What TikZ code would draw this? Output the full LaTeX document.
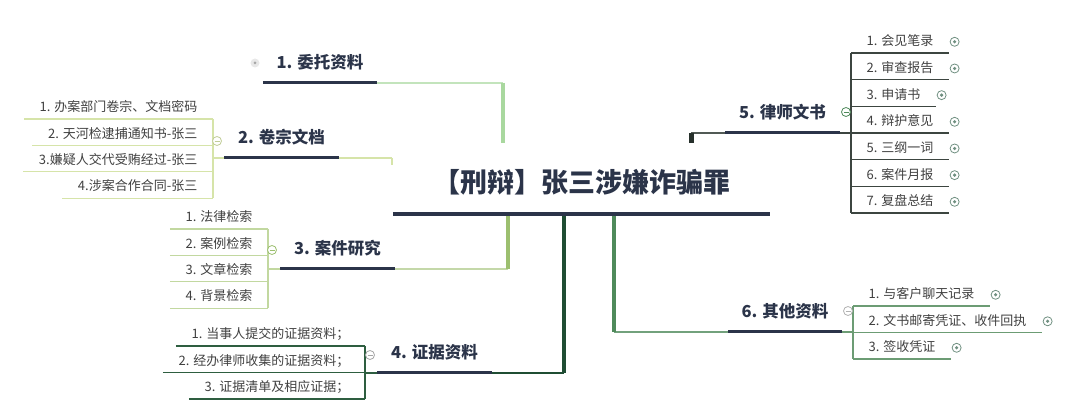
\documentclass[tikz,border=0pt]{standalone}
\usepackage{fontspec}
\setmainfont{Noto Sans CJK SC}
\usepackage{xcolor}
\usepackage{tikz}
\usetikzlibrary{calc}
\newcommand{\RootFont}{\fontsize{27}{32}\selectfont\bfseries}
\newcommand{\TopicFont}{\fontsize{16.5}{20}\selectfont\bfseries}
\newcommand{\ItemFont}{\fontsize{13}{16}\selectfont}
\definecolor{navy}{HTML}{2B3449}
\definecolor{txtgray}{HTML}{404040}
\definecolor{ga}{HTML}{A9D89F}
\definecolor{gb}{HTML}{D6E4A9}
\definecolor{gc}{HTML}{9CBF6F}
\definecolor{gcl}{HTML}{C2D8A0}
\definecolor{gd}{HTML}{1F4D33}
\definecolor{gdl}{HTML}{2E5E40}
\definecolor{ge}{HTML}{26302B}
\definecolor{gf}{HTML}{4F8A5B}
\definecolor{gfl}{HTML}{6C9C74}
\definecolor{icon}{HTML}{6F8F80}

\begin{document}
\begin{tikzpicture}[x=1pt,y=-1pt,
    root/.style={text=navy,font=\RootFont,inner sep=0pt,minimum width=377pt,
      text height=50pt,text depth=21pt},
    topic/.style={text=navy,font=\TopicFont,inner sep=0pt,minimum width=114pt,
      text height=20pt,text depth=14pt,anchor=south},
    item/.style={text=txtgray,font=\ItemFont,inner xsep=15.5pt,inner ysep=0pt,
      text height=12pt,text depth=7pt},
    uline/.style={navy,line width=3pt},
    link/.style={line width=1.2pt},
    stem/.style={line width=4pt},
    fold/.style={circle,draw=#1,fill=white,line width=0.8pt,minimum size=9pt,inner sep=0pt,
      path picture={\draw[#1,line width=0.8pt] ([xshift=-2.5pt]path picture bounding box.center)
        -- ([xshift=2.5pt]path picture bounding box.center);}},
    expand/.style={circle,draw=icon,line width=0.8pt,minimum size=9pt,inner sep=0pt,
      path picture={\fill[icon] (path picture bounding box.center) circle (1.8pt);}}]
  \useasboundingbox (0,0) rectangle (1080,419);

  % junctions on the central topic
  \coordinate (j1) at (503,143);
  \coordinate (j2) at (392,165);
  \coordinate (j3) at (508,214);
  \coordinate (j4) at (564,214);
  \coordinate (j5) at (691,143);
  \coordinate (j6) at (614,214);

  \node[root] (root) at (581.5,178.5) {【刑辩】张三涉嫌诈骗罪};

  \node[topic] (b1) at (320,83) {1. 委托资料};
  \node[topic] (b2) at (281.5,158) {2. 卷宗文档};
  \node[topic] (b3) at (337.5,269) {3. 案件研究};
  \node[topic] (b4) at (434.5,373) {4. 证据资料};
  \node[topic] (b5) at (782.5,133) {5. 律师文书};
  \node[topic] (b6) at (785,332) {6. 其他资料};

  % branches to the central topic
  \draw[link,ga!70] (b1.south east) -- (b1.south east -| j1);
  \draw[stem,ga] (b1.south east -| j1) -- (j1);
  \draw[link,gb] (b2.south east) -- (b2.south east -| j2);
  \draw[gb,line width=2pt] (b2.south east -| j2) -- (j2);
  \draw[link,gc!60] (b3.south east) -- (b3.south east -| j3);
  \draw[stem,gc] (b3.south east -| j3) -- (j3);
  \draw[link,gd] (b4.south east) -- (b4.south east -| j4);
  \draw[stem,gd,line width=4.5pt] (b4.south east -| j4) -- (j4);
  \draw[link,ge!80] (b5.south west) -- (b5.south west -| j5);
  \draw[stem,ge,line width=5pt] (b5.south west -| j5) -- (j5);
  \draw[link,gf!80] (b6.south west) -- (b6.south west -| j6);
  \draw[stem,gf] (b6.south west -| j6) -- (j6);

  \draw[navy,line width=4pt] (root.south west) -- (root.south east);
  \foreach \b in {b1,b2,b3,b4,b5,b6}
    \draw[uline] (\b.south west) -- (\b.south east);

  % 2. 卷宗文档
  \foreach \t [count=\i] in {1. 办案部门卷宗、文档密码, 2. 天河检逮捕通知书-张三,
      3.嫌疑人交代受贿经过-张三, 4.涉案合作合同-张三} {
    \node[item,anchor=south east] (b2i\i) at (213,{119+26.4*(\i-1)}) {\t};
    \draw[link,gb] (b2i\i.south west) -- (b2i\i.south east);
  }
  \draw[link,gb] (b2.south west) -- (b2.south west -| b2i1.south east);
  \draw[link,gb] (b2i1.south east) -- (b2i4.south east);

  % 3. 案件研究
  \foreach \t [count=\i] in {1. 法律检索, 2. 案例检索, 3. 文章检索, 4. 背景检索} {
    \node[item,anchor=south east] (b3i\i) at (268,{229+26.4*(\i-1)}) {\t};
    \draw[link,gcl] (b3i\i.south west) -- (b3i\i.south east);
  }
  \draw[link,gcl] (b3.south west) -- (b3.south west -| b3i1.south east);
  \draw[link,gcl] (b3i1.south east) -- (b3i4.south east);

  % 4. 证据资料
  \foreach \t [count=\i] in {1. 当事人提交的证据资料；, 2. 经办律师收集的证据资料；,
      3. 证据清单及相应证据；} {
    \node[item,anchor=south east] (b4i\i) at (365,{346+26.5*(\i-1)}) {\t};
    \draw[link,gdl] (b4i\i.south west) -- (b4i\i.south east);
  }
  \draw[link,gdl] (b4.south west) -- (b4.south west -| b4i1.south east);
  \draw[link,gdl] (b4i1.south east) -- (b4i3.south east);

  % 5. 律师文书
  \foreach \t [count=\i] in {1. 会见笔录, 2. 审查报告, 3. 申请书, 4. 辩护意见,
      5. 三纲一词, 6. 案件月报, 7. 复盘总结} {
    \node[item,anchor=south west] (b5i\i) at (851,{53+26.67*(\i-1)}) {\t};
    \draw[link,ge!90] (b5i\i.south west) -- (b5i\i.south east);
    \node[expand] (b5e\i) at ([xshift=5.5pt,yshift=1.5pt]b5i\i.east) {};
  }
  \draw[link,ge!90] (b5.south east) -- (b5.south east -| b5i1.south west);
  \draw[link,ge!90] (b5i1.south west) -- (b5i7.south west);

  % 6. 其他资料
  \foreach \t [count=\i] in {1. 与客户聊天记录, 2. 文书邮寄凭证、收件回执, 3. 签收凭证} {
    \node[item,anchor=south west] (b6i\i) at (853,{306+26.5*(\i-1)}) {\t};
    \draw[link,gfl] (b6i\i.south west) -- (b6i\i.south east);
    \node[expand] (b6e\i) at ([xshift=5.5pt,yshift=1.5pt]b6i\i.east) {};
  }
  \draw[link,gfl] (b6.south east) -- (b6.south east -| b6i1.south west);
  \draw[link,gfl] (b6i1.south west) -- (b6i3.south west);

  % fold markers
  \node[circle,fill=gray!18,minimum size=9pt,inner sep=0pt,
    path picture={\fill[gray!70] (path picture bounding box.center) circle (1.5pt);}]
    (f1) at (255,63) {};
  \node[fold=gb!90!black] (f2) at (217,141) {};
  \node[fold=gc] (f3) at (272,250) {};
  \node[fold=gray!70] (f4) at (370,355) {};
  \node[fold=gf] (f5) at (846,112) {};
  \node[fold=gray!60] (f6) at (848,311) {};
\end{tikzpicture}
\end{document}
